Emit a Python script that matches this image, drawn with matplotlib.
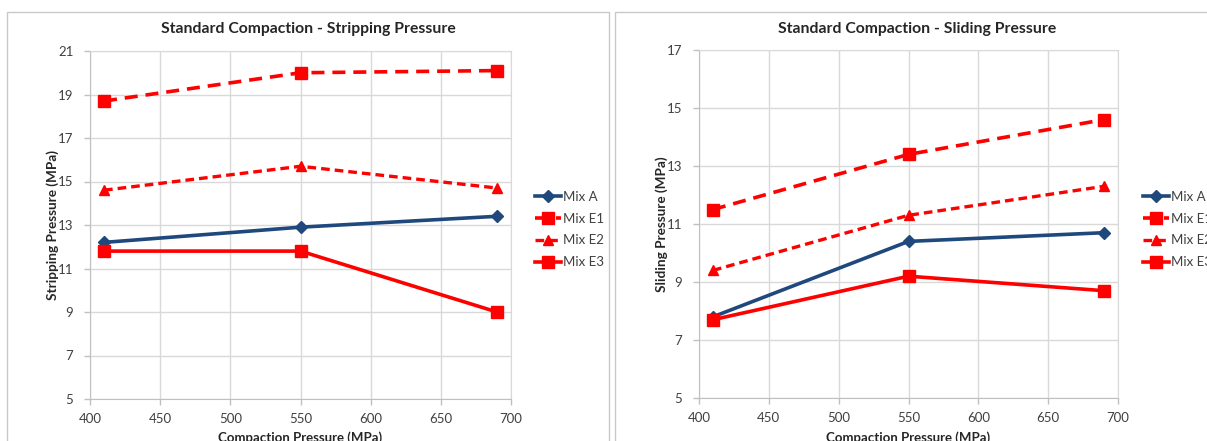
import matplotlib
matplotlib.use('Agg')
import matplotlib.pyplot as plt
from matplotlib.patches import Rectangle

plt.rcParams['font.family'] = ['Lato', 'DejaVu Sans']

# compaction pressure (MPa)
pressure = [410, 550, 690]
mixes = ['Mix A', 'Mix E1', 'Mix E2', 'Mix E3']

# stripping pressure (MPa)
strip_a = [12.2, 12.9, 13.4]
strip_e1 = [18.7, 20.0, 20.1]
strip_e2 = [14.6, 15.7, 14.7]
strip_e3 = [11.8, 11.8, 9.0]

# sliding pressure (MPa)
slide_a = [7.8, 10.4, 10.7]
slide_e1 = [11.5, 13.4, 14.6]
slide_e2 = [9.4, 11.3, 12.3]
slide_e3 = [7.7, 9.2, 8.7]

x_ticks = [400, 450, 500, 550, 600, 650, 700]

BLUE = '#1f497d'
RED = '#ff0000'
GRID = '#d9d9d9'
TXT = '#404040'

W, H = 1207, 441
fig = plt.figure(figsize=(W / 100, H / 100), dpi=100)


def fx(px):
    return px / W


def fy(py):
    return 1 - py / H


# chart frames
fig.add_artist(Rectangle((fx(7), fy(460)), fx(602), (460 - 12) / H, transform=fig.transFigure,
                         fill=False, ec='#c8c8c8', lw=1))
fig.add_artist(Rectangle((fx(615), fy(460)), fx(620), (460 - 12) / H, transform=fig.transFigure,
                         fill=False, ec='#c8c8c8', lw=1))


def draw(ax, series, ymax, title, ylabel, title_x, legend_x, ax_left, ax_bottom):
    styles = [
        dict(color=BLUE, lw=2.6, ls='-', marker='D', ms=6.5),
        dict(color=RED, lw=2.6, ls=(0, (3.6, 2.2)), marker='s', ms=8.5),
        dict(color=RED, lw=2.4, ls=(0, (2.6, 1.5)), marker='^', ms=7.5),
        dict(color=RED, lw=2.6, ls='-', marker='s', ms=8),
    ]
    for vals, name, st in zip(series, mixes, styles):
        ax.plot(pressure, vals, label=name, mec=st['color'], mfc=st['color'], **st)

    ax.set_xlim(400, 700)
    ax.set_ylim(5, ymax)
    ax.set_xticks(x_ticks)
    ax.set_yticks(list(range(5, ymax + 1, 2)))
    ax.grid(True, color=GRID, lw=1)
    ax.set_axisbelow(True)
    for s in ax.spines.values():
        s.set_color(GRID)
    ax.spines['left'].set_color('#c0c0c0')
    ax.spines['bottom'].set_color('#c0c0c0')
    ax.tick_params(axis='both', colors='#c0c0c0', labelcolor=TXT, labelsize=9.5,
                   length=4, width=1, direction='out')
    ax.tick_params(axis='y', pad=8)
    ax.tick_params(axis='x', pad=6)

    ax.set_ylabel(ylabel, fontsize=9.8, fontweight='bold', color='#262626', va='center')
    ax.yaxis.set_label_coords((53 - ax_left) / 420, 0.5)
    ax.set_xlabel('Compaction Pressure (MPa)', fontsize=9.5, fontweight='bold',
                  color='#262626', va='top')
    ax.xaxis.set_label_coords(0.5, (ax_bottom - 431) / 348)
    fig.text(title_x, fy(29), title, ha='center', va='center', fontsize=11.3,
             fontweight='bold', color='#262626')

    ax.legend(loc='center left', bbox_to_anchor=(legend_x, fy(229.5)),
              bbox_transform=fig.transFigure, frameon=False, fontsize=9.5,
              handlelength=2.0, handletextpad=0.15, labelspacing=0.75,
              borderpad=0, borderaxespad=0, labelcolor=TXT)


ax1 = fig.add_axes([fx(90), fy(399), fx(421), 348 / H])
draw(ax1, [strip_a, strip_e1, strip_e2, strip_e3], 21,
     'Standard Compaction - Stripping Pressure', 'Stripping Pressure (MPa)',
     fx(308), fx(535), 90, 399)

ax2 = fig.add_axes([fx(699), fy(398), fx(419), 348 / H])
draw(ax2, [slide_a, slide_e1, slide_e2, slide_e3], 17,
     'Standard Compaction - Sliding Pressure', 'Sliding Pressure (MPa)',
     fx(917), fx(1143), 699 - (662 - 53) + 0, 398)

fig.savefig('out.png', dpi=100)
